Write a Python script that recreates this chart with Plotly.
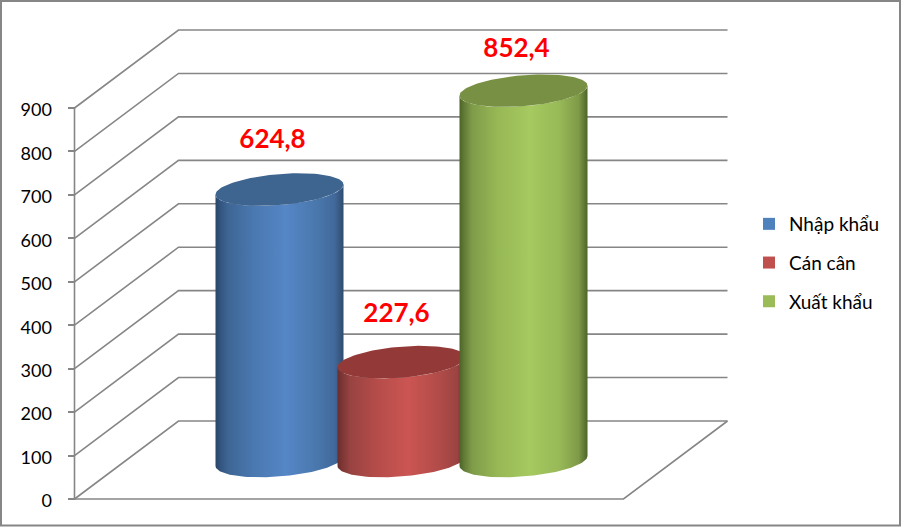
import math
import plotly.graph_objects as go

categories = ["Nhập khẩu", "Cán cân", "Xuất khẩu"]
values = [624.8, 227.6, 852.4]
value_labels = ["624,8", "227,6", "852,4"]
tick_values = [0, 100, 200, 300, 400, 500, 600, 700, 800, 900]
legend_colors = ["#4F81BD", "#C0504D", "#9BBB59"]
top_colors = ["#3E6490", "#933A39", "#789044"]
body_stops = [
    [[0, "#2A4568"], [0.04, "#33557F"], [0.1, "#3E6695"], [0.3, "#4A78B0"], [0.55, "#5586C6"], [0.78, "#4A78AE"], [0.93, "#42699A"], [1, "#2F4C70"]],
    [[0, "#6A2E2D"], [0.04, "#7E3735"], [0.1, "#984341"], [0.3, "#B44C49"], [0.55, "#CB5552"], [0.78, "#B34C49"], [0.93, "#9C4442"], [1, "#6F3130"]],
    [[0, "#4C6327"], [0.04, "#647D38"], [0.1, "#7F9C49"], [0.3, "#97B855"], [0.55, "#A6C960"], [0.78, "#98B957"], [0.93, "#7F9A48"], [1, "#4E6429"]],
]

W, H = 902, 527
PX_PER_UNIT = 391 / 900
Y0_PX = 499
AXIS_X = 74.5
DEPTH_X, DEPTH_V = 104, 78 / PX_PER_UNIT
FLOOR_W = 549
CENTER0, SPACING, RX = 279.5, 122, 64
RY, TILT = 15.5 / PX_PER_UNIT, 5 / PX_PER_UNIT
BASE_SHIFT = 38 / PX_PER_UNIT
GRID = "#868686"

fig = go.Figure()

# wall and floor gridlines
gx, gy = [], []
for v in tick_values:
    gx += [AXIS_X, AXIS_X + DEPTH_X, AXIS_X + DEPTH_X + FLOOR_W, None]
    gy += [v, v + DEPTH_V, v + DEPTH_V, None]
gx += [AXIS_X, AXIS_X + FLOOR_W, AXIS_X + DEPTH_X + FLOOR_W, None, AXIS_X, AXIS_X]
gy += [0, 0, DEPTH_V, None, 0, tick_values[-1]]
fig.add_trace(go.Scatter(x=gx, y=gy, mode="lines", line=dict(color=GRID, width=1.6),
                         showlegend=False, hoverinfo="skip"))


def ellipse(cx, cy, t0, t1, n=60):
    xs, ys = [], []
    for i in range(n + 1):
        t = t0 + (t1 - t0) * i / n
        xs.append(cx + RX * math.cos(t))
        ys.append(cy + RY * math.sin(t) + TILT * math.cos(t))
    return xs, ys


for i, (name, val) in enumerate(zip(categories, values)):
    cx = CENTER0 + SPACING * i
    # body: front half of the top ellipse, then front half of the base ellipse reversed
    tx, ty = ellipse(cx, BASE_SHIFT + val, math.pi, 2 * math.pi)
    bx, by = ellipse(cx, BASE_SHIFT, 2 * math.pi, math.pi)
    fig.add_trace(go.Scatter(
        x=tx + bx + tx[:1], y=ty + by + ty[:1], mode="lines", line=dict(width=0),
        fill="toself", fillcolor=legend_colors[i],
        fillgradient=dict(type="horizontal", colorscale=body_stops[i]),
        showlegend=False, hoverinfo="skip"))
    ex, ey = ellipse(cx, BASE_SHIFT + val, 0, 2 * math.pi, 120)
    fig.add_trace(go.Scatter(
        x=ex, y=ey, mode="lines", line=dict(width=0), fill="toself",
        fillcolor=top_colors[i], showlegend=False, hoverinfo="skip"))

# data labels
label_dy = [48, 47, 40]
label_dx = [-7, -5, -7]
fig.add_trace(go.Scatter(
    x=[CENTER0 + SPACING * i + label_dx[i] for i in range(3)],
    y=[BASE_SHIFT + v + label_dy[i] / PX_PER_UNIT for i, v in enumerate(values)],
    text=value_labels, mode="text", textposition="middle center",
    textfont=dict(family="Lato", size=26, color="#FF0000", weight="bold"),
    showlegend=False, hoverinfo="skip"))

# legend entries
for name, c in zip(categories, legend_colors):
    fig.add_trace(go.Scatter(x=[None], y=[None], mode="markers", name=name, legendgroup=name,
                             marker=dict(symbol="square", size=12, color=c)))

fig.update_layout(
    width=W, height=H,
    margin=dict(l=0, r=0, t=0, b=0),
    paper_bgcolor="white", plot_bgcolor="white",
    xaxis=dict(range=[0, W], visible=False, fixedrange=True),
    yaxis=dict(
        range=[-(H - Y0_PX) / PX_PER_UNIT, Y0_PX / PX_PER_UNIT],
        anchor="free", position=AXIS_X / W, side="left",
        tickmode="array", tickvals=tick_values, ticktext=[str(v) for v in tick_values],
        ticks="outside", ticklen=7, tickwidth=1.6, tickcolor=GRID,
        showgrid=False, zeroline=False, showline=False, ticklabelstandoff=12,
        ticklabelshift=2,
        tickfont=dict(family="Lato", size=18, color="#000000"), fixedrange=True),
    legend=dict(x=749 / W, y=1 - 205 / H, xanchor="left", yanchor="top",
                font=dict(family="Lato", size=19, color="#000000"),
                tracegroupgap=11, itemsizing="constant", bgcolor="rgba(0,0,0,0)"),
    shapes=[dict(type="rect", xref="x", yref="paper", x0=1, x1=W - 2,
                 y0=1.5 / H, y1=1 - 1 / H, line=dict(color=GRID, width=2), layer="above")],
)
fig.write_html("out.html", post_script="document.body.style.margin='0';",
               config={"displayModeBar": False})
